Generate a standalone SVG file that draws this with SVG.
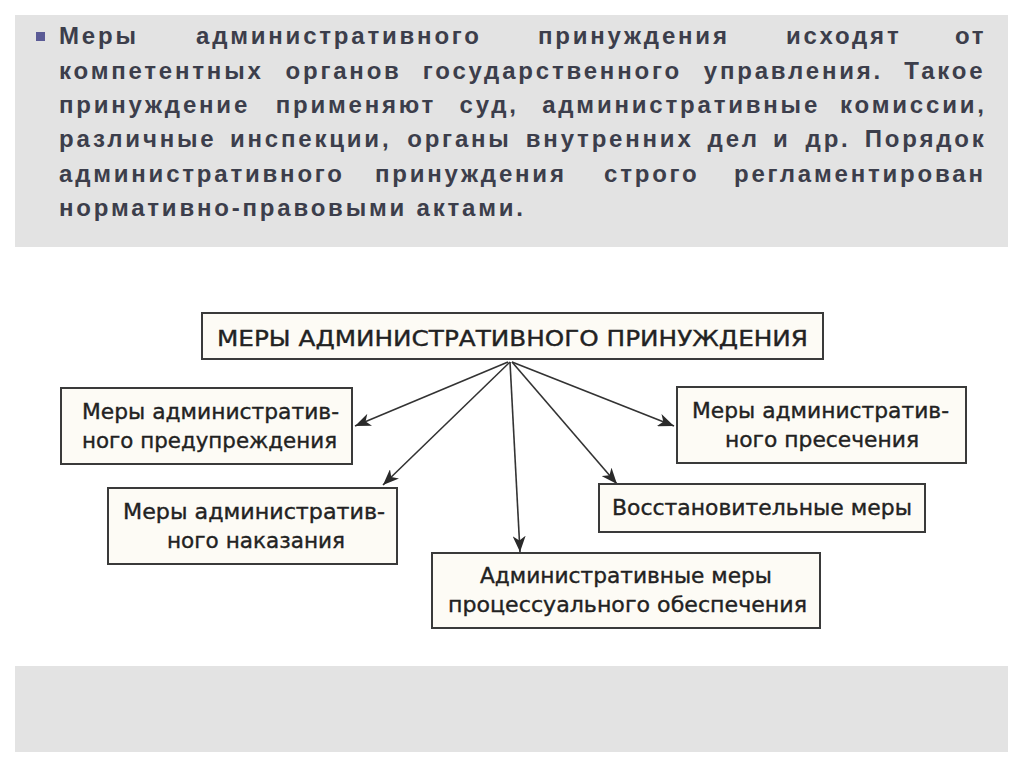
<svg xmlns="http://www.w3.org/2000/svg" width="1024" height="767" viewBox="0 0 1024 767">
<defs>
<style>
.panel{fill:#e3e3e3}
.para{font-family:"Liberation Sans",Arial,sans-serif;font-weight:bold;font-size:24px;letter-spacing:2.8px;fill:#3c3e4b}
.box{fill:#fdfbf5;stroke:#3a3a3a;stroke-width:2}
.lbl{font-family:"DejaVu Sans","Noto Sans",sans-serif;font-size:20.5px;fill:#222222;stroke:#222222;stroke-width:0.35}
.conn{stroke:#333;stroke-width:1.6;fill:none;marker-end:url(#ah)}
</style>
<marker id="ah" markerUnits="userSpaceOnUse" markerWidth="17" markerHeight="13" refX="16" refY="6.5" orient="auto">
<path d="M0,0 L16,6.5 L0,13 L4.5,6.5 z" fill="#2a2a2a"/>
</marker>
</defs>
<rect width="1024" height="767" fill="#ffffff"/>
<g id="text-panel">
<rect class="panel" x="15" y="15" width="993" height="232"/>
<rect x="36" y="32" width="9" height="9" fill="#5b5b96"/>
<text class="para">
<tspan x="59" y="44">Меры</tspan><tspan x="196" y="44">административного</tspan><tspan x="538" y="44">принуждения</tspan><tspan x="786" y="44">исходят</tspan><tspan x="955" y="44">от</tspan>
<tspan x="59" y="79">компетентных</tspan><tspan x="285.5" y="79">органов</tspan><tspan x="422.8" y="79">государственного</tspan><tspan x="703.8" y="79">управления.</tspan><tspan x="904.3" y="79">Такое</tspan>
<tspan x="59" y="113">принуждение</tspan><tspan x="275.7" y="113">применяют</tspan><tspan x="459.5" y="113">суд,</tspan><tspan x="542.2" y="113">административные</tspan><tspan x="840.1" y="113">комиссии,</tspan>
<tspan x="59" y="147">различные</tspan><tspan x="230" y="147">инспекции,</tspan><tspan x="407.2" y="147">органы</tspan><tspan x="525.8" y="147">внутренних</tspan><tspan x="707.6" y="147">дел</tspan><tspan x="773.1" y="147">и</tspan><tspan x="805.6" y="147">др.</tspan><tspan x="864.8" y="147">Порядок</tspan>
<tspan x="59" y="182">административного</tspan><tspan x="375" y="182">принуждения</tspan><tspan x="604" y="182">строго</tspan><tspan x="734" y="182">регламентирован</tspan>
<tspan x="59" y="216">нормативно-правовыми актами.</tspan>
</text>
</g>
<rect id="bottom-panel" class="panel" x="15" y="666" width="993" height="86"/>
<g id="connectors">
<line class="conn" x1="508" y1="362" x2="355" y2="426"/>
<line class="conn" x1="510" y1="362" x2="383" y2="485"/>
<line class="conn" x1="510" y1="362" x2="520" y2="552"/>
<line class="conn" x1="512" y1="362" x2="617" y2="484"/>
<line class="conn" x1="512" y1="362" x2="674" y2="426"/>
</g>
<g id="main">
<rect class="box" x="202" y="313" width="621" height="46"/>
<text class="lbl" x="217" y="346" font-size="24.5" textLength="591" lengthAdjust="spacingAndGlyphs">МЕРЫ АДМИНИСТРАТИВНОГО ПРИНУЖДЕНИЯ</text>
</g>
<g id="warning">
<rect class="box" x="61" y="388" width="291" height="76"/>
<text class="lbl" x="82" y="419" textLength="257" lengthAdjust="spacingAndGlyphs">Меры административ-</text>
<text class="lbl" x="82" y="448" textLength="255" lengthAdjust="spacingAndGlyphs">ного предупреждения</text>
</g>
<g id="suppression">
<rect class="box" x="677" y="387" width="289" height="76"/>
<text class="lbl" x="692" y="418" textLength="257" lengthAdjust="spacingAndGlyphs">Меры административ-</text>
<text class="lbl" x="725" y="447" textLength="194" lengthAdjust="spacingAndGlyphs">ного пресечения</text>
</g>
<g id="punishment">
<rect class="box" x="108" y="488" width="289" height="76"/>
<text class="lbl" x="123" y="519" textLength="262" lengthAdjust="spacingAndGlyphs">Меры административ-</text>
<text class="lbl" x="167" y="548" textLength="178" lengthAdjust="spacingAndGlyphs">ного наказания</text>
</g>
<g id="restorative">
<rect class="box" x="599" y="484" width="326" height="48"/>
<text class="lbl" x="612" y="515" textLength="300" lengthAdjust="spacingAndGlyphs">Восстановительные меры</text>
</g>
<g id="procedural">
<rect class="box" x="432" y="553" width="388" height="75"/>
<text class="lbl" x="480" y="583" textLength="292" lengthAdjust="spacingAndGlyphs">Административные меры</text>
<text class="lbl" x="448" y="612" textLength="359" lengthAdjust="spacingAndGlyphs">процессуального обеспечения</text>
</g>
</svg>
